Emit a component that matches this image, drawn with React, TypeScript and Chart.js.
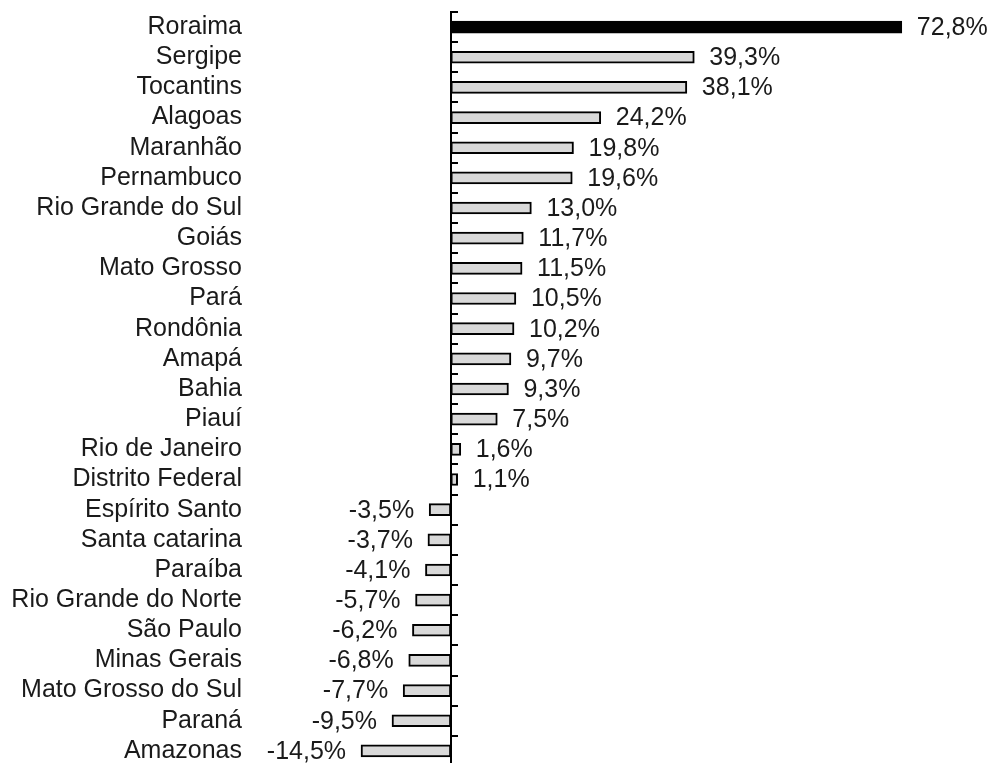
import React, { useEffect, useRef } from "react";
import { Chart, registerables } from "chart.js";

Chart.register(...registerables);

const states = [
  "Roraima", "Sergipe", "Tocantins", "Alagoas", "Maranhão", "Pernambuco",
  "Rio Grande do Sul", "Goiás", "Mato Grosso", "Pará", "Rondônia", "Amapá",
  "Bahia", "Piauí", "Rio de Janeiro", "Distrito Federal", "Espírito Santo",
  "Santa catarina", "Paraíba", "Rio Grande do Norte", "São Paulo",
  "Minas Gerais", "Mato Grosso do Sul", "Paraná", "Amazonas",
];

const growth = [
  72.8, 39.3, 38.1, 24.2, 19.8, 19.6, 13.0, 11.7, 11.5, 10.5, 10.2, 9.7,
  9.3, 7.5, 1.6, 1.1, -3.5, -3.7, -4.1, -5.7, -6.2, -6.8, -7.7, -9.5, -14.5,
];

const highlight = "Roraima";

const FONT = "'Liberation Sans', Arial, sans-serif";

const fmt = (v: number) => v.toFixed(1).replace(".", ",") + "%";

const overlayPlugin = {
  id: "overlay",
  afterDatasetsDraw(chart: any) {
    const { ctx, chartArea, scales } = chart;
    const xs = scales.x;
    const ys = scales.y;
    const x0 = Math.round(xs.getPixelForValue(0));
    ctx.save();
    // zero axis line
    ctx.strokeStyle = "#000";
    ctx.lineWidth = 2;
    ctx.beginPath();
    ctx.moveTo(x0, chartArea.top - 1);
    ctx.lineTo(x0, chartArea.bottom);
    ctx.stroke();
    // tick marks at category boundaries
    const n = states.length;
    const rowH = (chartArea.bottom - chartArea.top) / n;
    for (let i = 0; i < n; i++) {
      const y = Math.round(ys.getPixelForValue(i) - rowH / 2);
      ctx.beginPath();
      ctx.moveTo(x0 - 1, y);
      ctx.lineTo(x0 + 7, y);
      ctx.stroke();
    }
    // value labels
    ctx.fillStyle = "#1a1a1a";
    ctx.font = `25px ${FONT}`;
    ctx.textBaseline = "middle";
    const meta = chart.getDatasetMeta(0);
    meta.data.forEach((el: any, i: number) => {
      const v = growth[i];
      if (v >= 0) {
        ctx.textAlign = "left";
        ctx.fillText(fmt(v), el.x + 15, el.y + 1);
      } else {
        ctx.textAlign = "right";
        ctx.fillText(fmt(v), el.x - 15, el.y + 1);
      }
    });
    ctx.restore();
  },
};

export default function App() {
  const ref = useRef<HTMLCanvasElement | null>(null);

  useEffect(() => {
    if (!ref.current) return;
    const chart = new Chart(ref.current, {
      type: "bar",
      data: {
        labels: states,
        datasets: [
          {
            data: growth,
            backgroundColor: states.map((s) => (s === highlight ? "#000000" : "#d9d9d9")),
            borderColor: "#000000",
            borderWidth: 2,
            borderSkipped: false,
            barThickness: 12,
          },
        ],
      },
      options: {
        indexAxis: "y",
        responsive: false,
        animation: false,
        devicePixelRatio: 1,
        layout: { padding: { top: 12, bottom: 0, left: 0, right: 0 } },
        plugins: {
          legend: { display: false },
          tooltip: { enabled: false },
        },
        scales: {
          x: {
            display: false,
            min: -30,
            max: 86.87,
          },
          y: {
            afterFit: (scale: any) => {
              scale.width = 265;
              scale.paddingTop = 0;
              scale.paddingBottom = 0;
            },
            grid: { display: false, drawTicks: false },
            border: { display: false },
            ticks: {
              padding: 23,
              autoSkip: false,
              color: "#1a1a1a",
              font: { size: 25, family: FONT },
            },
          },
        },
      },
      plugins: [overlayPlugin],
    });
    return () => chart.destroy();
  }, []);

  return (
    <div
      style={{
        position: "absolute",
        left: 0,
        top: 0,
        width: 989,
        height: 763,
        overflow: "hidden",
        background: "#fff",
      }}
    >
      <canvas ref={ref} width={989} height={766} style={{ display: "block" }} />
    </div>
  );
}
